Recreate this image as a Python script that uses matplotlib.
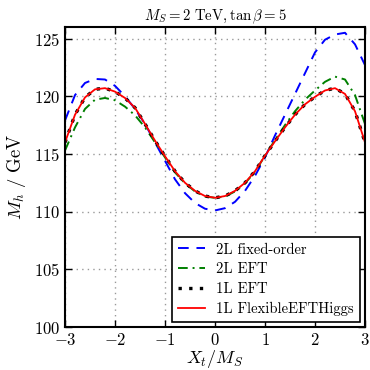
import matplotlib
matplotlib.use("Agg")
import matplotlib.pyplot as plt
import numpy as np

plt.rcParams['mathtext.fontset'] = 'cm'
plt.rcParams['font.family'] = 'serif'
plt.rcParams['font.serif'] = ['cmr10', 'DejaVu Serif']
plt.rcParams['axes.formatter.use_mathtext'] = True
plt.rcParams['axes.unicode_minus'] = True

xt = [-3.0, -2.8, -2.6, -2.4, -2.2, -2.0, -1.8, -1.6, -1.4, -1.2, -1.0,
      -0.8, -0.6, -0.4, -0.2, 0.0, 0.2, 0.4, 0.6, 0.8, 1.0,
      1.2, 1.4, 1.6, 1.8, 2.0, 2.2, 2.4, 2.6, 2.8, 3.0]

fo_2l = [117.9, 120.1, 121.15, 121.5, 121.45, 120.9, 120.0, 118.9, 117.6, 116.0, 114.4,
         112.8, 111.6, 110.75, 110.25, 110.1, 110.3, 110.85, 111.8, 113.1, 114.7,
         116.6, 118.4, 120.2, 122.0, 123.8, 124.9, 125.35, 125.5, 124.5, 122.7]

eft_2l = [115.3, 117.3, 118.9, 119.7, 119.85, 119.65, 119.1, 118.35, 117.3, 116.0, 114.7,
          113.4, 112.45, 111.75, 111.3, 111.2, 111.3, 111.75, 112.45, 113.45, 114.85,
          116.2, 117.5, 118.7, 119.7, 120.5, 121.25, 121.7, 121.45, 120.1, 117.6]

eft_1l = [116.0, 118.4, 119.9, 120.6, 120.7, 120.4, 119.85, 119.0, 117.6, 116.15, 114.8,
          113.5, 112.5, 111.8, 111.35, 111.2, 111.35, 111.8, 112.5, 113.5, 114.85,
          116.1, 117.3, 118.4, 119.3, 119.95, 120.5, 120.7, 120.2, 118.7, 116.0]

feft_1l = [116.0, 118.4, 119.9, 120.6, 120.7, 120.4, 119.85, 119.0, 117.6, 116.15, 114.8,
           113.5, 112.5, 111.8, 111.35, 111.2, 111.35, 111.8, 112.5, 113.5, 114.85,
           116.1, 117.3, 118.4, 119.3, 119.95, 120.5, 120.7, 120.2, 118.7, 116.0]

labels = ['2L fixed-order', '2L EFT', '1L EFT', '1L FlexibleEFTHiggs']
xticks = [-3, -2, -1, 0, 1, 2, 3]
yticks = [100, 105, 110, 115, 120, 125]

fig = plt.figure(figsize=(3.7, 3.7), dpi=100)
ax = fig.add_axes([0.1757, 0.1162, 0.8108, 0.8108])

ax.plot(xt, fo_2l, color='blue', ls=(0, (5.5, 4)), lw=1.4, label=labels[0])
ax.plot(xt, eft_2l, color='green', ls=(0, (5, 2.5, 1, 2.5)), lw=1.4, label=labels[1])
ax.plot(xt, eft_1l, color='black', ls=(0, (1, 2.2)), lw=2.4, label=labels[2])
ax.plot(xt, feft_1l, color='red', ls='-', lw=1.3, label=labels[3])

ax.set_xlim(-3, 3)
ax.set_ylim(100, 126)
ax.set_xticks(xticks)
ax.set_yticks(yticks)
ax.grid(True, color='#999999', ls=(0, (1, 3)), lw=1.0)
ax.tick_params(direction='in', top=True, right=True, length=5, width=1.0, labelsize=12)
for s in ax.spines.values():
    s.set_linewidth(1.5)

ax.set_xlabel(r'$X_t/M_S$', fontsize=13, labelpad=0)
ax.set_ylabel(r'$M_h\ /\ \mathrm{GeV}$', fontsize=13.5, labelpad=4)
ax.set_title(r'$M_S = 2\ \mathrm{TeV}, \tan\beta = 5$', fontsize=10.7, pad=5)

leg = ax.legend(loc='lower right', fontsize=10.6, fancybox=False, framealpha=1,
                edgecolor='black', handlelength=1.8, borderaxespad=0.35,
                labelspacing=0.4)
leg.get_frame().set_linewidth(1.2)

fig.savefig('out.png', dpi=100)
